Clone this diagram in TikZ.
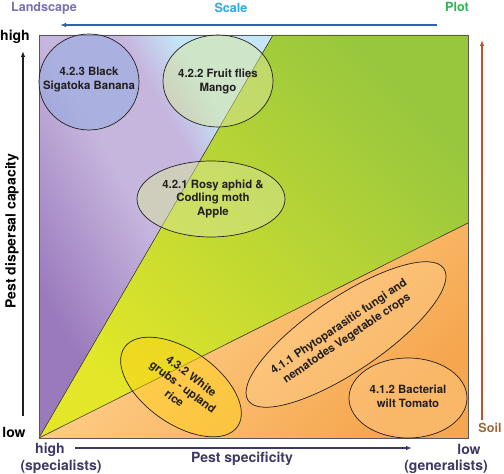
\documentclass[tikz,border=0pt]{standalone}
\usepackage{fontspec}
\setmainfont{TeX Gyre Heros}
\usetikzlibrary{arrows.meta}
\definecolor{Ink}{HTML}{231F20}
\definecolor{LandPurple}{HTML}{7B70B0}
\definecolor{ScaleBlue}{HTML}{29ABE2}
\definecolor{PlotGreen}{HTML}{2EB350}
\definecolor{SoilBrown}{HTML}{9A6A3C}
\definecolor{ArrowBlue}{HTML}{2F62B0}
\definecolor{ArrowRust}{HTML}{B4552C}
\definecolor{AxisNavy}{HTML}{3E3863}
\definecolor{Lilac}{HTML}{9A79BC}
\definecolor{LilacLight}{HTML}{C6B6DE}
\definecolor{SkyPale}{HTML}{C4E6F8}
\definecolor{LimeYellow}{HTML}{E3E728}
\definecolor{LeafGreen}{HTML}{98C73E}
\definecolor{PeachLight}{HTML}{FFD995}
\definecolor{PeachDeep}{HTML}{F6A64E}
\definecolor{BlobBlue}{HTML}{93ACE0}
\definecolor{BlobLime}{HTML}{D8E59A}
\definecolor{BlobYellow}{HTML}{FFD21A}
\definecolor{BlobPeach}{HTML}{FFD190}
\pgfdeclareverticalshading{lilacsky}{100bp}{color(0bp)=(Lilac); color(28bp)=(Lilac); color(50bp)=(LilacLight); color(62bp)=(LilacLight); color(70bp)=(SkyPale); color(100bp)=(SkyPale)}
\tikzset{
  pestblob/.style={draw=Ink, line width=0.7pt},
  blobtext/.style={text=Ink, align=center, font=\fontsize{11.4}{14}\selectfont\bfseries},
  axistext/.style={font=\fontsize{14}{15}\selectfont\bfseries},
  scaletext/.style={font=\fontsize{12.6}{14}\selectfont\bfseries},
  axisarrow/.style={line width=1.2pt, -{Latex[length=6pt,width=4.5pt]}},
}
\begin{document}
\begin{tikzpicture}[x=1pt,y=1pt]
  \useasboundingbox (0,0) rectangle (504,474);
  % frame corners and split points
  \coordinate (O) at (39,36);
  \coordinate (TL) at (39,439);
  \coordinate (TR) at (468,439);
  \coordinate (BR) at (468,36);
  \coordinate (U) at (273,439);
  \coordinate (R) at (468,251);
  % three zones
  \shade[shading=lilacsky, shading angle=-60] (O) -- (TL) -- (U) -- cycle;
  \shade[top color=LeafGreen, bottom color=LimeYellow, shading angle=-45] (O) -- (U) -- (TR) -- (R) -- cycle;
  \shade[top color=PeachLight, bottom color=PeachDeep, shading angle=45] (O) -- (R) -- (BR) -- cycle;
  \draw[Ink, line width=0.5pt] (O) -- (U);
  \draw[Ink, line width=0.5pt] (O) -- (R);
  \draw[Ink!75, line width=0.8pt] (O) rectangle (TR);
  % case studies
  \filldraw[pestblob, fill=BlobBlue, fill opacity=0.55] (89,392) ellipse [x radius=50, y radius=48];
  \filldraw[pestblob, fill=BlobLime, fill opacity=0.5] (218,393) ellipse [x radius=55, y radius=46];
  \filldraw[pestblob, fill=BlobLime, fill opacity=0.5] (211,275) ellipse [x radius=74, y radius=38];
  \filldraw[pestblob, fill=BlobYellow, fill opacity=0.5, rotate around={-35:(181,87)}] (181,87) ellipse [x radius=69, y radius=37];
  \filldraw[pestblob, fill=BlobPeach, fill opacity=0.4, rotate around={34:(346,139.5)}] (346,139.5) ellipse [x radius=118, y radius=37];
  \filldraw[pestblob, fill=BlobPeach, fill opacity=0.4] (408,76) ellipse [x radius=59, y radius=40];
  \node[blobtext] (banana) at (89,394) {4.2.3 Black\\Sigatoka Banana};
  \node[blobtext] (mango) at (218,392) {4.2.2 Fruit flies\\Mango};
  \node[blobtext] (apple) at (213,275) {4.2.1 Rosy aphid \&\\Codling moth\\Apple};
  \node[blobtext, rotate=-37] (grubs) at (183,87) {4.3.2 White\\grubs - upland\\rice};
  \node[blobtext, rotate=34] (phyto) at (343,141) {4.1.1 Phytoparasitic fungi and\\nematodes Vegetable crops};
  \node[blobtext] (tomato) at (408,78) {4.1.2 Bacterial\\wilt Tomato};
  % scale arrows
  \node[scaletext, text=LandPurple] (landscape) at (44,466) {Landscape};
  \node[scaletext, text=ScaleBlue] (scale) at (231,466) {Scale};
  \node[scaletext, text=PlotGreen] (plot) at (457,467) {Plot};
  \node[scaletext, text=SoilBrown] (soil) at (490,46) {Soil};
  \coordinate (plotend) at (437,449);
  \coordinate (landend) at (60,449);
  \coordinate (soilend) at (482,54);
  \coordinate (soiltop) at (482,434);
  \draw[axisarrow, ArrowBlue, line width=1.4pt] (plotend) -- (landend);
  \draw[axisarrow, ArrowRust] (soilend) -- (soiltop);
  % axes
  \node[axistext] (dhigh) at (15,437) {high};
  \node[axistext] (dlow) at (14,42) {low};
  \node[axistext, rotate=90] (dispersal) at (12,243) {Pest dispersal capacity};
  \coordinate (dbot) at (23,58);
  \coordinate (dtop) at (23,423);
  \draw[axisarrow, Ink] (dbot) -- (dtop);
  \node[axistext, text=AxisNavy] (shigh) at (50,24) {high};
  \node[axistext, text=AxisNavy] (sspec) at (61,7) {(specialists)};
  \node[axistext, text=AxisNavy] (slow) at (469,25) {low};
  \node[axistext, text=AxisNavy] (sgen) at (446,7) {(generalists)};
  \node[axistext, text=AxisNavy] (specificity) at (242,15) {Pest specificity};
  \coordinate (sleft) at (75,26);
  \coordinate (sright) at (412,26);
  \draw[axisarrow, AxisNavy] (sleft) -- (sright);
\end{tikzpicture}
\end{document}
